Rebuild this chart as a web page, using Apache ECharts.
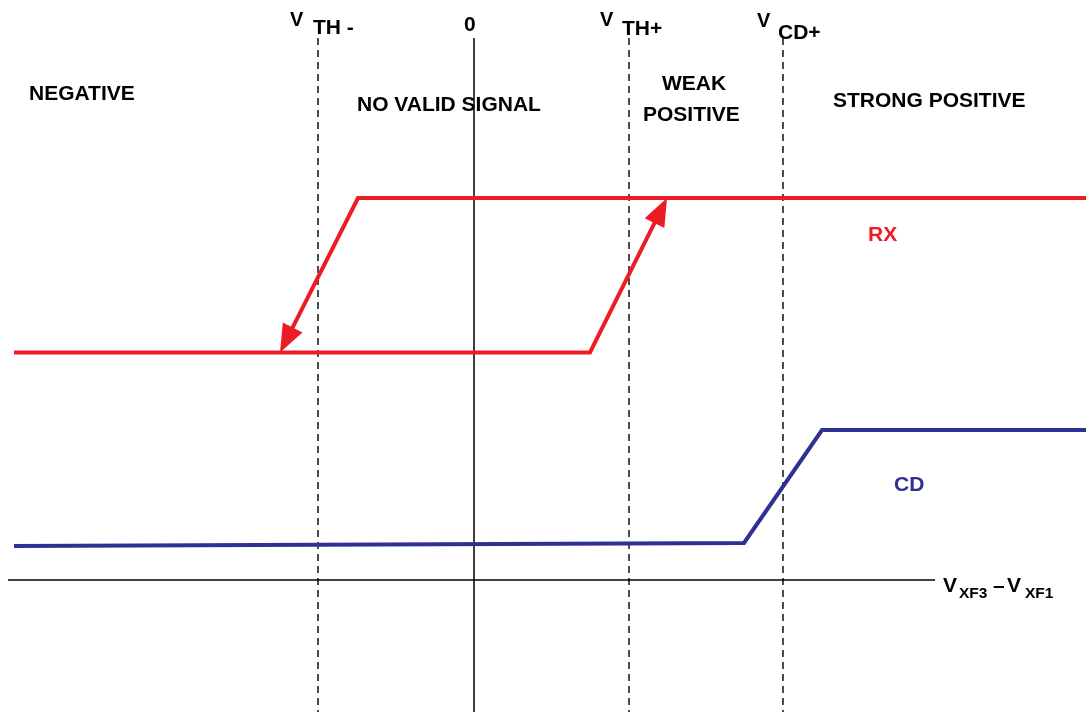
<!DOCTYPE html>
<html>
<head>
<meta charset="utf-8">
<title>RX / CD threshold hysteresis</title>
<script src="https://cdn.jsdelivr.net/npm/echarts@6/dist/echarts.min.js"></script>
<style>
  html, body { margin: 0; padding: 0; background: #ffffff; }
  #chart { width: 1086px; height: 712px; }
</style>
</head>
<body>
<div id="chart"></div>
<script>
// Differential input (arbitrary units, 0 = zero crossing) vs. output level.
const thresholdX = [-15.6, 15.5, 30.9];          // VTH-, VTH+, VCD+
const thresholdSub = ['TH -', 'TH+', 'CD+'];
const regionLabels = ['NEGATIVE', 'NO VALID SIGNAL', 'WEAK', 'POSITIVE', 'STRONG POSITIVE'];

// RX receiver output: rising branch (low -> high past VTH+) and falling branch (high -> low past VTH-)
const rxRise = [[-46.0, 22.75], [11.6, 22.75], [19.3, 38.2]];
const rxFall = [[61.2, 38.2], [-11.6, 38.2], [-19.4, 22.75]];

// CD carrier detect output
const cdPath = [[-46.0, 3.4], [27.0, 3.7], [34.8, 15.0], [61.2, 15.0]];

// Axis extents
const xAxisLine = [[-46.6, 0], [46.1, 0]];
const yAxisLine = [[0, 54.2], [0, -13.2]];
const guideTop = 54.2;
const guideBottom = -13.2;

const RED = '#ED1C24';
const BLUE = '#2E3192';
const INK = '#000000';
const FONT = '"Liberation Sans", Arial, Helvetica, sans-serif';

const chart = echarts.init(document.getElementById('chart'), null, { renderer: 'canvas' });

function plainLine(data, color, width, type) {
  return {
    type: 'line',
    data: data,
    symbol: 'none',
    silent: true,
    z: 2,
    lineStyle: { color: color, width: width, type: type || 'solid', cap: 'butt', join: 'miter' }
  };
}

// Polyline whose last segment ends in a filled arrowhead
function arrowPathSeries(paths, color) {
  const n = paths[0].length;
  const xs = [], ys = [];
  for (let i = 0; i < n; i++) { xs.push(2 * i); ys.push(2 * i + 1); }
  return {
    type: 'custom',
    silent: true,
    z: 3,
    encode: { x: xs, y: ys },
    data: paths.map(p => p.flat()),
    renderItem: function (params, api) {
      const pts = [];
      for (let i = 0; i < n; i++) pts.push(api.coord([api.value(2 * i), api.value(2 * i + 1)]));
      const tip = pts[n - 1];
      const prev = pts[n - 2];
      const dx = tip[0] - prev[0], dy = tip[1] - prev[1];
      const len = Math.sqrt(dx * dx + dy * dy);
      const ux = dx / len, uy = dy / len;
      const headLen = 28, headW = 22;
      const base = [tip[0] - ux * headLen, tip[1] - uy * headLen];
      const nx = -uy, ny = ux;
      const linePts = pts.slice(0, n - 1).concat([[base[0] + ux * 4, base[1] + uy * 4]]);
      return {
        type: 'group',
        children: [
          {
            type: 'polyline',
            shape: { points: linePts },
            style: { stroke: color, lineWidth: 4, fill: null, lineJoin: 'miter', lineCap: 'butt' }
          },
          {
            type: 'polygon',
            shape: { points: [tip, [base[0] + nx * headW / 2, base[1] + ny * headW / 2], [base[0] - nx * headW / 2, base[1] - ny * headW / 2]] },
            style: { fill: color }
          }
        ]
      };
    }
  };
}

const series = [];
// axes
series.push(plainLine(xAxisLine, INK, 1.5));
series.push(plainLine(yAxisLine, INK, 1.5));
// threshold guides
thresholdX.forEach(t => series.push(plainLine([[t, guideTop], [t, guideBottom]], INK, 1.4, [7, 5])));
// CD
series.push(Object.assign(plainLine(cdPath, BLUE, 4), { z: 3 }));
// RX
series.push(arrowPathSeries([rxRise, rxFall], RED));

function txt(text, left, y, opt) {
  opt = opt || {};
  return {
    type: 'text',
    left: left,
    top: y,
    z: 10,
    silent: true,
    style: {
      text: text,
      x: 0, y: 0,
      fill: opt.color || INK,
      font: 'bold ' + (opt.size || 21) + 'px ' + FONT,
      textAlign: 'left',
      textVerticalAlign: 'top'
    }
  };
}

const graphics = [
  txt(regionLabels[0], 29, 84),
  txt(regionLabels[1], 357, 95),
  txt(regionLabels[2], 662, 74),
  txt(regionLabels[3], 643, 105),
  txt(regionLabels[4], 833, 91),
  txt('RX', 868, 225, { color: RED }),
  txt('CD', 894, 475, { color: BLUE }),
  txt('0', 464, 15),
  // threshold names
  txt('V', 290, 10, { size: 20 }),
  txt(thresholdSub[0], 313, 18),
  txt('V', 600, 10, { size: 20 }),
  txt(thresholdSub[1], 622, 19),
  txt('V', 757, 11, { size: 20 }),
  txt(thresholdSub[2], 778, 23),
  // x-axis name
  txt('V', 943, 576, { size: 21 }),
  txt('XF3', 959, 586, { size: 15.5 }),
  txt('\u2013', 993, 576, { size: 21 }),
  txt('V', 1007, 576, { size: 21 }),
  txt('XF1', 1025, 586, { size: 15.5 })
];

chart.setOption({
  animation: false,
  backgroundColor: '#ffffff',
  grid: { left: 0, right: 0, top: 0, bottom: 0, containLabel: false },
  xAxis: { type: 'value', min: -47.4, max: 61.2, show: false },
  yAxis: { type: 'value', min: -13.2, max: 58.0, show: false },
  series: series,
  graphic: graphics
});
</script>
</body>
</html>
